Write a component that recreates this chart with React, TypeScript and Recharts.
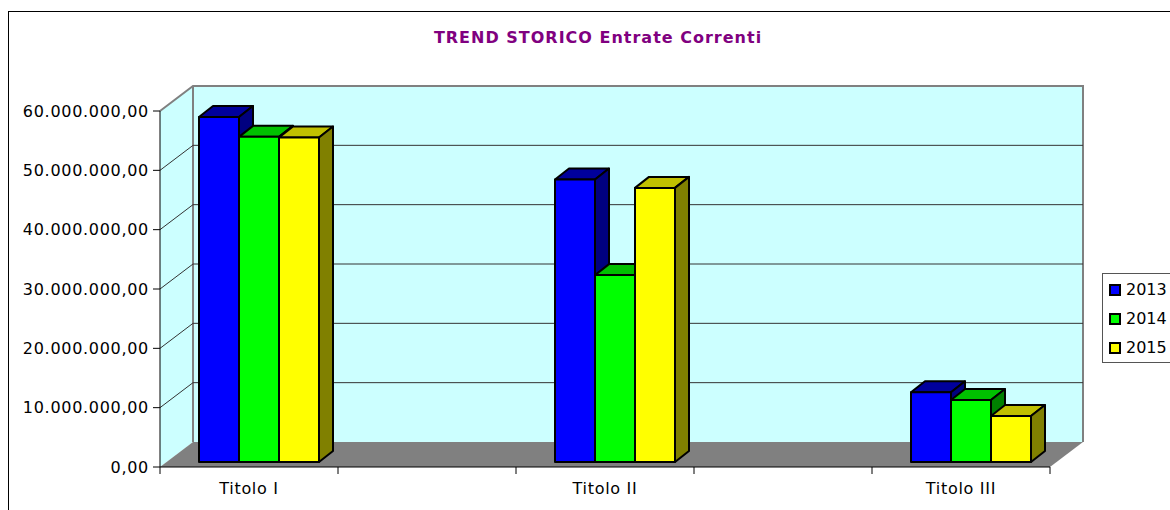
import React from 'react';
import { BarChart, Bar, XAxis, YAxis, ReferenceArea, ReferenceLine, Legend } from 'recharts';

// categories on the floor: two empty slots sit between the three "Titolo"
const categories = ['Titolo I', '', 'Titolo II', '', 'Titolo III'];
const years = ['2013', '2014', '2015'];
const values2013 = [58150000, null, 47600000, null, 11750000];
const values2014 = [54800000, null, 31500000, null, 10450000];
const values2015 = [54700000, null, 46200000, null, 7750000];
const yTicks = [0, 10000000, 20000000, 30000000, 40000000, 50000000, 60000000];

const data = categories.map((name, i) => ({
  name,
  v2013: values2013[i],
  v2014: values2014[i],
  v2015: values2015[i],
}));

const FONT = '"DejaVu Sans", Verdana, sans-serif';
const WALL = '#CCFFFF';
const FLOOR = '#808080';
const EDGE = '#808080';

// 3D projection
const DEPTH_X = 33;
const DEPTH_Y = 25;
const BAR_SHIFT_X = 10;
const BAR_SHIFT_Y = -5;
const BOX_X = 14;
const BOX_Y = 11;

// front / top / side colours for each year
const faces: Record<string, [string, string, string]> = {
  '2013': ['#0000FF', '#00009C', '#000080'],
  '2014': ['#00FF00', '#00C000', '#008000'],
  '2015': ['#FFFF00', '#C0C000', '#808000'],
};

const formatEuro = (v: number) => {
  const [int, dec] = v.toFixed(2).split('.');
  return int.replace(/\B(?=(\d{3})+(?!\d))/g, '.') + ',' + dec;
};

const Walls = (p: any) => {
  const { x, y, width, height } = p;
  const bx = x + DEPTH_X;
  const by = y - DEPTH_Y;
  return (
    <g>
      <polygon points={`${x},${y} ${bx},${by} ${bx},${by + height} ${x},${y + height}`} fill={WALL} />
      <rect x={bx} y={by} width={width} height={height} fill={WALL} />
      <polyline
        points={`${x},${y} ${bx},${by} ${bx + width},${by} ${bx + width},${by + height}`}
        fill="none"
        stroke={EDGE}
        strokeWidth={2}
      />
      <line x1={bx} y1={by} x2={bx} y2={by + height} stroke={EDGE} strokeWidth={2} />
      <polygon
        points={`${x},${y + height} ${x + width},${y + height} ${bx + width},${by + height} ${bx},${by + height}`}
        fill={FLOOR}
      />
    </g>
  );
};

const GridLine = (p: any) => {
  const left = Math.min(p.x1, p.x2);
  const right = Math.max(p.x1, p.x2);
  const y = p.y1;
  return (
    <polyline
      points={`${left},${y} ${left + DEPTH_X},${y - DEPTH_Y} ${right + DEPTH_X},${y - DEPTH_Y}`}
      fill="none"
      stroke="#333"
      strokeWidth={1}
    />
  );
};

// label at the band centre, tick marks at the band edges
const CategoryTick = (p: any) => {
  const { x, y, payload, index, visibleTicksCount, width } = p;
  const band = width && visibleTicksCount ? width / visibleTicksCount : 0;
  const half = band / 2;
  return (
    <g>
      <line x1={x - half} y1={y} x2={x - half} y2={y + 7} stroke="#000" />
      {index === visibleTicksCount - 1 && <line x1={x + half} y1={y} x2={x + half} y2={y + 7} stroke="#000" />}
      <text
        x={x}
        y={y + 16}
        dy="0.71em"
        textAnchor="middle"
        fontSize={16}
        fill="#000"
        fontFamily={FONT}
        style={{ letterSpacing: '0.7px' }}
      >
        {payload.value}
      </text>
    </g>
  );
};

const makeBox = (year: string) => (p: any) => {
  const { x, y, width: w, height: h } = p;
  if (!h || h <= 0) return <g />;
  const [front, top, side] = faces[year];
  const fx = x + BAR_SHIFT_X;
  const fy = y + BAR_SHIFT_Y;
  const bottom = fy + h;
  return (
    <g stroke="#000" strokeWidth={2} strokeLinejoin="round">
      <polygon points={`${fx},${fy} ${fx + BOX_X},${fy - BOX_Y} ${fx + w + BOX_X},${fy - BOX_Y} ${fx + w},${fy}`} fill={top} />
      <polygon
        points={`${fx + w},${fy} ${fx + w + BOX_X},${fy - BOX_Y} ${fx + w + BOX_X},${bottom - BOX_Y} ${fx + w},${bottom}`}
        fill={side}
      />
      <rect x={fx} y={fy} width={w} height={h} fill={front} />
    </g>
  );
};

const LegendBox = (props: any) => (
  <div
    style={{
      border: '1px solid #555',
      background: '#fff',
      padding: '1px 30px 0 6px',
      fontFamily: FONT,
      fontSize: 16,
      color: '#000',
    }}
  >
    {(props.payload || []).map((item: any) => (
      <div key={item.value} style={{ display: 'flex', alignItems: 'center', height: 29 }}>
        <span
          style={{ display: 'inline-block', width: 8, height: 8, border: '2px solid #000', background: item.color, marginRight: 5 }}
        />
        <span>{item.value}</span>
      </div>
    ))}
  </div>
);

export default function App() {
  return (
    <div style={{ position: 'absolute', left: 0, top: 0, width: 1170, height: 510, overflow: 'hidden', background: '#fff' }}>
      <div
        style={{ position: 'absolute', left: 8, top: 11, width: 1200, height: 600, borderLeft: '1px solid #000', borderTop: '1px solid #000' }}
      />
      <div
        style={{
          position: 'absolute',
          left: 598,
          top: 28,
          transform: 'translateX(-50%)',
          whiteSpace: 'nowrap',
          fontFamily: FONT,
          fontWeight: 'bold',
          fontSize: 16,
          lineHeight: '19px',
          letterSpacing: 1,
          color: '#800080',
        }}
      >
        TREND STORICO Entrate Correnti
      </div>
      <BarChart
        width={1170}
        height={510}
        data={data}
        margin={{ top: 111, right: 120, bottom: 13, left: 0 }}
        barGap={0}
        barCategoryGap={29}
      >
        <ReferenceArea y1={0} y2={60000000} ifOverflow="visible" shape={Walls} zIndex={-100} />
        {yTicks.slice(1, -1).map((v) => (
          <ReferenceLine key={v} y={v} ifOverflow="visible" shape={GridLine} zIndex={-50} />
        ))}
        <XAxis
          dataKey="name"
          height={30}
          interval={0}
          tick={CategoryTick}
          tickLine={false}
          tickSize={0}
          tickMargin={0}
          axisLine={{ stroke: '#000' }}
        />
        <YAxis
          domain={[0, 60000000]}
          ticks={yTicks}
          interval={0}
          width={160}
          tickFormatter={formatEuro}
          tickSize={7}
          tickMargin={4}
          axisLine={{ stroke: '#000' }}
          tickLine={{ stroke: '#000' }}
          tick={{ fontSize: 16, fill: '#000', fontFamily: FONT, style: { letterSpacing: '0.7px' } }}
        />
        {years.map((year) => (
          <Bar
            key={year}
            dataKey={`v${year}`}
            name={year}
            fill={faces[year][0]}
            shape={makeBox(year)}
            isAnimationActive={false}
          />
        ))}
        <Legend
          layout="vertical"
          align="center"
          verticalAlign="middle"
          wrapperStyle={{ left: 1102, top: 273, width: 'auto', height: 'auto' }}
          content={LegendBox}
        />
      </BarChart>
    </div>
  );
}
